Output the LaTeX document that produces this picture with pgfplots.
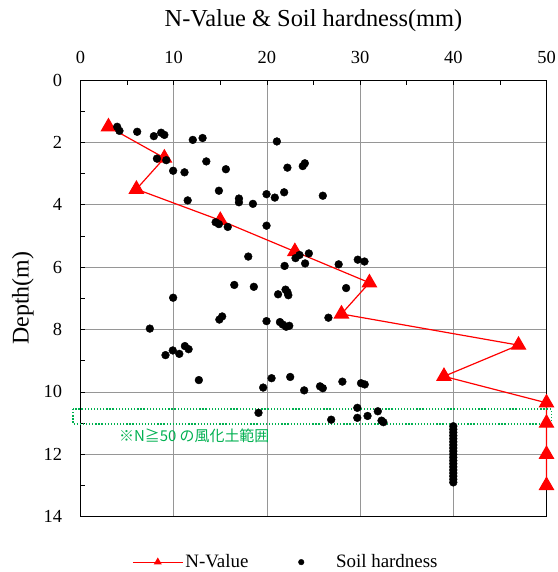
\documentclass[border=0pt]{standalone}
\usepackage{pgfplots}
\pgfplotsset{compat=1.18}
\usepackage{fontspec}
\setmainfont{Liberation Serif}
\newfontfamily\cjk{Noto Sans CJK JP}
\definecolor{ngreen}{RGB}{0,176,80}
\definecolor{gridgray}{RGB}{150,150,150}
\pgfplotsset{
  nlegend/.style={legend image code/.code={
    \draw[mark repeat=2, mark phase=2, ##1, mark size=3.5bp]
      plot coordinates {(0bp,0bp) (25bp,0bp) (50bp,0bp)};}},
  slegend/.style={legend image code/.code={
    \draw[##1, mark size=2.8bp] plot coordinates {(0bp,0bp)};}},
}

\begin{document}
\begin{tikzpicture}
\path[use as bounding box] (0,0) rectangle (558bp,572bp);
\begin{axis}[
  at={(80.5bp,55.3bp)}, anchor=south west,
  scale only axis, width=466bp, height=436.7bp,
  xmin=0, xmax=50, ymin=0, ymax=14, y dir=reverse,
  xtick={0,10,...,50}, ytick={0,2,...,14},
  minor x tick num=1, minor y tick num=1,
  xtick pos=upper, xticklabel pos=upper, ytick pos=left,
  tick align=inside, major tick length=5bp, minor tick length=5bp,
  grid=major, major grid style={gridgray, line width=0.7bp},
  axis line style={black, line width=1bp},
  tick style={black, line width=0.7bp},
  /pgf/number format/assume math mode=true,
  xticklabel={\pgfmathprintnumber{\tick}},
  yticklabel={\pgfmathprintnumber{\tick}},
  xticklabel style={font=\fontsize{18.5}{20}\selectfont, yshift=13bp},
  yticklabel style={font=\fontsize{18.5}{20}\selectfont, xshift=-15bp},
  xlabel={N-Value \& Soil hardness(mm)},
  xlabel style={at={(axis description cs:0.5,1)}, anchor=center, yshift=59bp,
    font=\fontsize{24.5}{27}\selectfont},
  ylabel={Depth(m)},
  ylabel style={at={(axis description cs:0,0.5)}, anchor=center, yshift=57.5bp,
    font=\fontsize{24}{27}\selectfont},
  clip=false,
  legend columns=2,
  legend style={draw=none, fill=none, at={(0.1105,-0.104)}, anchor=west,
    font=\fontsize{19}{21}\selectfont, inner xsep=0pt,
    /tikz/every even column/.append style={column sep=48bp}},
]
% N-Value
\addplot[color=red, line width=1.2bp, mark=triangle*, mark size=8bp,
  mark options={solid, fill=red}, nlegend]
coordinates {
  (3,1.5) (9,2.5) (6,3.5) (15,4.5) (23,5.5) (31,6.5) (28,7.5)
  (47,8.5) (39,9.5) (50,10.35) (50,11) (50,12) (50,13)
};
\addlegendentry{N-Value}
% Soil hardness
\addplot[only marks, mark=*, mark size=3.9bp, color=black, slegend]
coordinates {
  (3.93,1.50) (4.18,1.63) (6.08,1.66) (7.87,1.80) (8.65,1.69) (9.00,1.76)
  (12.05,1.92) (13.10,1.86) (21.07,1.97) (8.20,2.52) (9.20,2.57) (13.50,2.61)
  (9.94,2.91) (11.16,2.96) (15.60,2.86) (22.20,2.81) (23.85,2.76) (24.07,2.67)
  (14.85,3.55) (11.50,3.86) (17.00,3.80) (17.00,3.92) (18.50,3.97) (19.96,3.66)
  (20.85,3.77) (21.85,3.60) (26.00,3.71) (14.50,4.56) (14.85,4.62) (15.80,4.71)
  (19.96,4.67) (18.00,5.66) (23.07,5.71) (23.50,5.61) (24.50,5.56) (24.10,5.88)
  (21.90,5.96) (27.70,5.91) (29.75,5.76) (30.47,5.82) (16.50,6.57) (18.60,6.63)
  (9.94,6.98) (21.20,6.87) (22.00,6.72) (22.20,6.80) (22.30,6.90) (28.50,6.67)
  (14.90,7.68) (15.20,7.58) (19.96,7.73) (21.40,7.76) (21.70,7.84) (22.07,7.91)
  (22.40,7.88) (26.60,7.62) (7.44,7.97) (9.12,8.82) (9.90,8.67) (10.60,8.78)
  (11.20,8.53) (11.60,8.63) (12.70,9.62) (19.60,9.86) (20.50,9.56) (22.50,9.52)
  (24.00,9.95) (25.70,9.82) (26.00,9.88) (28.10,9.67) (30.10,9.72) (30.50,9.76)
  (19.10,10.67) (26.90,10.89) (29.70,10.51) (29.70,10.83) (30.80,10.77)
  (31.90,10.62) (32.30,10.92) (32.50,10.97)
  (40,11.1) (40,11.2) (40,11.3) (40,11.4) (40,11.5) (40,11.6) (40,11.7)
  (40,11.8) (40,11.9) (40,12.0) (40,12.1) (40,12.2) (40,12.3) (40,12.4)
  (40,12.5) (40,12.6) (40,12.7) (40,12.8) (40,12.9)
};
\addlegendentry{\hspace{30bp}Soil hardness}
% weathered soil zone
\draw[ngreen, line width=1.3bp, dash pattern=on 1.3bp off 1.8bp]
  (axis cs:-0.8,10.55) rectangle (axis cs:50.5,11.03);
\node[ngreen, font=\cjk\fontsize{15}{17}\selectfont, anchor=center]
  at (axis cs:12.2,11.42) {※N≧50 の風化土範囲};
\end{axis}
\end{tikzpicture}
\end{document}
